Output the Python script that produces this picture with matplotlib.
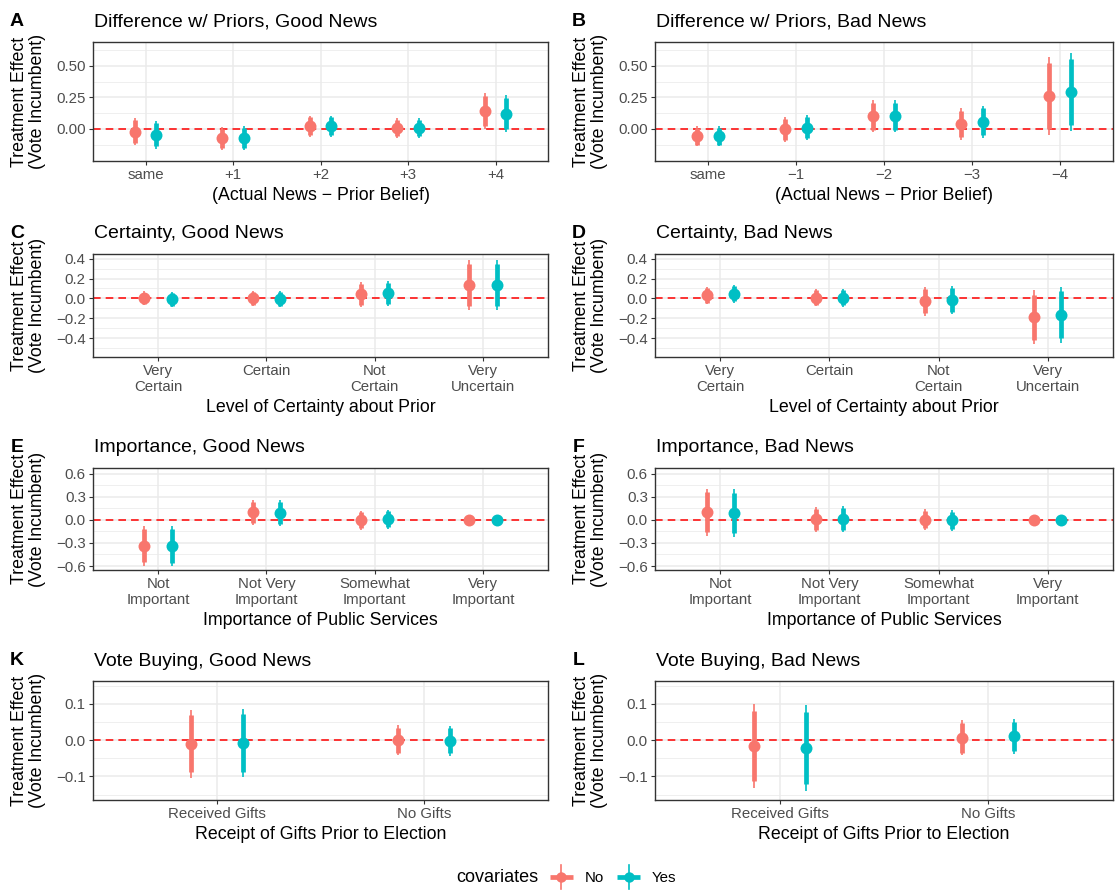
import numpy as np
import matplotlib
matplotlib.use("Agg")
import matplotlib.pyplot as plt
from matplotlib.lines import Line2D
from matplotlib.legend_handler import HandlerBase
from matplotlib.ticker import FixedLocator, FuncFormatter

plt.rcParams['font.family'] = ['Liberation Sans', 'DejaVu Sans']

RED = '#F8766D'
TEAL = '#00BFC4'
Z90, Z95 = 1.645, 1.96

# category labels
prior_good_cats = ['same', '+1', '+2', '+3', '+4']
prior_bad_cats = ['same', '\u22121', '\u22122', '\u22123', '\u22124']
certainty_cats = ['Very\nCertain', 'Certain', 'Not\nCertain', 'Very\nUncertain']
importance_cats = ['Not\nImportant', 'Not Very\nImportant', 'Somewhat\nImportant', 'Very\nImportant']
gifts_cats = ['Received Gifts', 'No Gifts']

# estimates + 95% CI half widths
# A
prior_good_est_no = [-0.020, -0.075, 0.022, 0.008, 0.143]
prior_good_ci_no = [0.105, 0.090, 0.083, 0.078, 0.143]
prior_good_est_yes = [-0.045, -0.072, 0.022, 0.008, 0.121]
prior_good_ci_yes = [0.110, 0.093, 0.083, 0.078, 0.147]
# B
prior_bad_est_no = [-0.058, -0.002, 0.102, 0.040, 0.260]
prior_bad_ci_no = [0.078, 0.100, 0.128, 0.125, 0.310]
prior_bad_est_yes = [-0.058, 0.010, 0.102, 0.056, 0.294]
prior_bad_ci_yes = [0.078, 0.100, 0.128, 0.127, 0.310]
# C
cert_good_est_no = [0.000, 0.000, 0.040, 0.138]
cert_good_ci_no = [0.070, 0.077, 0.130, 0.252]
cert_good_est_yes = [-0.010, -0.005, 0.052, 0.138]
cert_good_ci_yes = [0.077, 0.082, 0.126, 0.252]
# D
cert_bad_est_no = [0.030, 0.008, -0.030, -0.190]
cert_bad_ci_no = [0.085, 0.088, 0.145, 0.270]
cert_bad_est_yes = [0.045, 0.006, -0.014, -0.165]
cert_bad_ci_yes = [0.090, 0.092, 0.141, 0.280]
# E
imp_good_est_no = [-0.335, 0.100, -0.003, 0.0]
imp_good_ci_no = [0.260, 0.165, 0.123, 0.0]
imp_good_est_yes = [-0.337, 0.090, 0.009, 0.0]
imp_good_ci_yes = [0.263, 0.172, 0.126, 0.0]
# F
imp_bad_est_no = [0.100, 0.008, 0.004, 0.0]
imp_bad_ci_no = [0.306, 0.163, 0.134, 0.0]
imp_bad_est_yes = [0.085, 0.013, -0.006, 0.0]
imp_bad_ci_yes = [0.312, 0.168, 0.136, 0.0]
# K
gift_good_est_no = [-0.010, 0.000]
gift_good_ci_no = [0.094, 0.041]
gift_good_est_yes = [-0.008, -0.002]
gift_good_ci_yes = [0.094, 0.041]
# L
gift_bad_est_no = [-0.016, 0.007]
gift_bad_ci_no = [0.116, 0.049]
gift_bad_est_yes = [-0.022, 0.011]
gift_bad_ci_yes = [0.118, 0.048]

W, H = 1117, 890
fig = plt.figure(figsize=(W / 100, H / 100), dpi=100)

row_top = [42, 254, 468, 681]
row_bot = [161, 357, 570, 800]
col_left = [93, 655]
col_right = [548, 1113]


def fmt(decimals):
    return FuncFormatter(lambda v, p: ('%.*f' % (decimals, v)).replace('-', '\u2212'))


def panel(row, col, letter, title, cats, est_no, ci_no, est_yes, ci_yes,
          ylim, yticks, yminor, dec, xlabel):
    l, r = col_left[col], col_right[col]
    t, b = row_top[row], row_bot[row]
    ax = fig.add_axes([l / W, 1 - b / H, (r - l) / W, (b - t) / H])
    x = np.arange(1, len(cats) + 1)
    for off, est, ci, c in [(-0.125, est_no, ci_no, RED), (0.125, est_yes, ci_yes, TEAL)]:
        est = np.array(est)
        ci = np.array(ci)
        ax.vlines(x + off, est - ci, est + ci, color=c, lw=1.2, zorder=3)
        ax.vlines(x + off, est - ci * Z90 / Z95, est + ci * Z90 / Z95, color=c, lw=3.4, zorder=3)
        ax.plot(x + off, est, 'o', color=c, ms=8.6, mec='none', zorder=4)
    ax.axhline(0, color='red', lw=1.1, ls=(0, (5, 3.3)), zorder=2)

    ax.set_xlim(0.4, len(cats) + 0.6)
    ax.set_ylim(*ylim)
    ax.set_xticks(x)
    ax.set_xticklabels(cats, linespacing=1.2)
    ax.yaxis.set_major_locator(FixedLocator(yticks))
    ax.yaxis.set_minor_locator(FixedLocator(yminor))
    ax.yaxis.set_major_formatter(fmt(dec))
    ax.set_axisbelow(True)
    ax.grid(which='major', color='#EBEBEB', lw=1.1)
    ax.grid(which='minor', axis='y', color='#EBEBEB', lw=0.55)
    ax.tick_params(which='major', length=2.75, width=0.8, color='#333333',
                   labelcolor='#4D4D4D', labelsize=10.8, pad=2.4)
    ax.tick_params(which='minor', length=0)
    for s in ax.spines.values():
        s.set_color('#333333')
        s.set_linewidth(1.0)
    ax.set_xlabel(xlabel, fontsize=12.8, labelpad=3.5)

    fig.text((l + 1) / W, 1 - (t - 15.5) / H, title, fontsize=14, ha='left', va='baseline')
    fig.text((l - 76) / W, 1 - (t - 16) / H, letter, fontsize=14, fontweight='bold',
             ha='center', va='baseline')
    fig.text((l - 64.5) / W, 1 - ((t + b) / 2) / H, 'Treatment Effect\n(Vote Incumbent)',
             fontsize=12.8, rotation=90, ha='center', va='center', linespacing=1.12)
    return ax


xlab_prior = '(Actual News \u2212 Prior Belief)'
xlab_cert = 'Level of Certainty about Prior'
xlab_imp = 'Importance of Public Services'
xlab_gift = 'Receipt of Gifts Prior to Election'

lim_prior = (-0.254, 0.69)
lim_cert = (-0.59, 0.447)
lim_imp = (-0.652, 0.675)
lim_gift = (-0.165, 0.163)

panel(0, 0, 'A', 'Difference w/ Priors, Good News', prior_good_cats,
      prior_good_est_no, prior_good_ci_no, prior_good_est_yes, prior_good_ci_yes,
      lim_prior, [0, 0.25, 0.5], [-0.125, 0.125, 0.375, 0.625], 2, xlab_prior)
panel(0, 1, 'B', 'Difference w/ Priors, Bad News', prior_bad_cats,
      prior_bad_est_no, prior_bad_ci_no, prior_bad_est_yes, prior_bad_ci_yes,
      lim_prior, [0, 0.25, 0.5], [-0.125, 0.125, 0.375, 0.625], 2, xlab_prior)
panel(1, 0, 'C', 'Certainty, Good News', certainty_cats,
      cert_good_est_no, cert_good_ci_no, cert_good_est_yes, cert_good_ci_yes,
      lim_cert, [-0.4, -0.2, 0, 0.2, 0.4], [-0.5, -0.3, -0.1, 0.1, 0.3], 1, xlab_cert)
panel(1, 1, 'D', 'Certainty, Bad News', certainty_cats,
      cert_bad_est_no, cert_bad_ci_no, cert_bad_est_yes, cert_bad_ci_yes,
      lim_cert, [-0.4, -0.2, 0, 0.2, 0.4], [-0.5, -0.3, -0.1, 0.1, 0.3], 1, xlab_cert)
panel(2, 0, 'E', 'Importance, Good News', importance_cats,
      imp_good_est_no, imp_good_ci_no, imp_good_est_yes, imp_good_ci_yes,
      lim_imp, [-0.6, -0.3, 0, 0.3, 0.6], [-0.45, -0.15, 0.15, 0.45], 1, xlab_imp)
panel(2, 1, 'F', 'Importance, Bad News', importance_cats,
      imp_bad_est_no, imp_bad_ci_no, imp_bad_est_yes, imp_bad_ci_yes,
      lim_imp, [-0.6, -0.3, 0, 0.3, 0.6], [-0.45, -0.15, 0.15, 0.45], 1, xlab_imp)
panel(3, 0, 'K', 'Vote Buying, Good News', gifts_cats,
      gift_good_est_no, gift_good_ci_no, gift_good_est_yes, gift_good_ci_yes,
      lim_gift, [-0.1, 0, 0.1], [-0.15, -0.05, 0.05, 0.15], 1, xlab_gift)
panel(3, 1, 'L', 'Vote Buying, Bad News', gifts_cats,
      gift_bad_est_no, gift_bad_ci_no, gift_bad_est_yes, gift_bad_ci_yes,
      lim_gift, [-0.1, 0, 0.1], [-0.15, -0.05, 0.05, 0.15], 1, xlab_gift)


class PointRangeKey(HandlerBase):
    def create_artists(self, legend, orig_handle, xdescent, ydescent, width, height,
                       fontsize, trans):
        c = orig_handle.get_color()
        cx = width / 2 - xdescent
        cy = height / 2 - ydescent
        bar = Line2D([-xdescent, width - xdescent], [cy, cy], color=c, lw=3.4,
                     solid_capstyle='butt', transform=trans)
        stem = Line2D([cx, cx], [cy - 8.5, cy + 8.5], color=c, lw=1.2, transform=trans)
        dot = Line2D([cx], [cy], marker='o', ms=7.5, color=c, mec='none', transform=trans)
        return [bar, stem, dot]


h_no = Line2D([], [], color=RED)
h_yes = Line2D([], [], color=TEAL)
leg_y = 1 - 878 / H
fig.text(538 / W, leg_y, 'covariates', fontsize=13, ha='right', va='center')
fig.legend([h_no, h_yes], ['No', 'Yes'], loc='center left', bbox_to_anchor=(550 / W, leg_y),
           ncol=2, frameon=False, fontsize=10.8, handlelength=1.5, handletextpad=0.8,
           columnspacing=0.9, borderpad=0, borderaxespad=0,
           handler_map={Line2D: PointRangeKey()})

fig.savefig('out.png', dpi=100)
